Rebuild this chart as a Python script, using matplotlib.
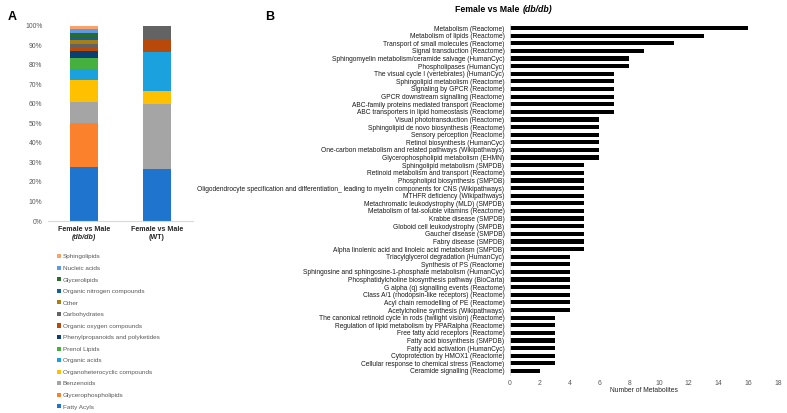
import matplotlib.pyplot as plt
import numpy as np

plt.rcParams['font.family'] = ['Liberation Sans', 'DejaVu Sans']

# === Panel A data: metabolite counts per chemical class ===
classes = ['Fatty Acyls', 'Glycerophospholipids', 'Benzenoids',
           'Organoheterocyclic compounds', 'Organic acids', 'Prenol Lipids',
           'Phenylpropanoids and polyketides', 'Organic oxygen compounds',
           'Carbohydrates', 'Other', 'Organic nitrogen compounds',
           'Glycerolipids', 'Nucleic acids', 'Sphingolipids']
class_colors = ['#1F75CE', '#FB812C', '#A5A5A5', '#FFC000', '#1BA1DD',
                '#45B03E', '#0B3F72', '#B8490A', '#636363', '#A67E12',
                '#135F96', '#2A6B2F', '#5C9BE3', '#F9A36A']
groups = ['Female vs Male', 'Female vs Male']
group_sub = ['(db/db)', '(WT)']
group_sub_style = ['italic', 'normal']
counts_dbdb = [15, 12, 6, 6, 3, 3, 2, 1, 1, 1, 1, 1, 1, 1]
counts_wt = [4, 0, 5, 1, 3, 0, 0, 1, 1, 0, 0, 0, 0, 0]

# === Panel B data: enriched pathways ===
pathways = [
    'Metabolism (Reactome)',
    'Metabolism of lipids (Reactome)',
    'Transport of small molecules (Reactome)',
    'Signal transduction (Reactome)',
    'Sphingomyelin metabolism/ceramide salvage (HumanCyc)',
    'Phospholipases (HumanCyc)',
    'The visual cycle I (vertebrates) (HumanCyc)',
    'Sphingolipid metabolism (Reactome)',
    'Signaling by GPCR (Reactome)',
    'GPCR downstream signalling (Reactome)',
    'ABC-family proteins mediated transport (Reactome)',
    'ABC transporters in lipid homeostasis (Reactome)',
    'Visual phototransduction (Reactome)',
    'Sphingolipid de novo biosynthesis (Reactome)',
    'Sensory perception (Reactome)',
    'Retinol biosynthesis (HumanCyc)',
    'One-carbon metabolism and related pathways (Wikipathways)',
    'Glycerophospholipid metabolism (EHMN)',
    'Sphingolipid metabolism (SMPDB)',
    'Retinoid metabolism and transport (Reactome)',
    'Phospholipid biosynthesis (SMPDB)',
    'Oligodendrocyte specification and differentiation_ leading to myelin components for CNS (Wikipathways)',
    'MTHFR deficiency (Wikipathways)',
    'Metachromatic leukodystrophy (MLD) (SMPDB)',
    'Metabolism of fat-soluble vitamins (Reactome)',
    'Krabbe disease (SMPDB)',
    'Globoid cell leukodystrophy (SMPDB)',
    'Gaucher disease (SMPDB)',
    'Fabry disease (SMPDB)',
    'Alpha linolenic acid and linoleic acid metabolism (SMPDB)',
    'Triacylglycerol degradation (HumanCyc)',
    'Synthesis of PS (Reactome)',
    'Sphingosine and sphingosine-1-phosphate metabolism (HumanCyc)',
    'Phosphatidylcholine biosynthesis pathway (BioCarta)',
    'G alpha (q) signalling events (Reactome)',
    'Class A/1 (rhodopsin-like receptors) (Reactome)',
    'Acyl chain remodelling of PE (Reactome)',
    'Acetylcholine synthesis (Wikipathways)',
    'The canonical retinoid cycle in rods (twilight vision) (Reactome)',
    'Regulation of lipid metabolism by PPARalpha (Reactome)',
    'Free fatty acid receptors (Reactome)',
    'Fatty acid biosynthesis (SMPDB)',
    'Fatty acid activation (HumanCyc)',
    'Cytoprotection by HMOX1 (Reactome)',
    'Cellular response to chemical stress (Reactome)',
    'Ceramide signalling (Reactome)',
]
n_metabolites = [16, 13, 11, 9, 8, 8, 7, 7, 7, 7, 7, 7, 6, 6, 6, 6, 6, 6,
                 5, 5, 5, 5, 5, 5, 5, 5, 5, 5, 5, 5, 4, 4, 4, 4, 4, 4, 4, 4,
                 3, 3, 3, 3, 3, 3, 3, 2]

W, H = 787, 413
fig = plt.figure(figsize=(W / 100, H / 100), dpi=100)
gray_txt = '#595959'

# === Panel A ===
axA = fig.add_axes([48 / W, 1 - 221 / H, 145 / W, 195.3 / H])
pct = np.array([counts_dbdb, counts_wt], dtype=float)
pct = pct / pct.sum(axis=1, keepdims=True) * 100
x = np.arange(len(groups))
bottom = np.zeros(len(groups))
handles = []
for i, name in enumerate(classes):
    b = axA.bar(x, pct[:, i], 0.39, bottom=bottom, color=class_colors[i],
                label=name, linewidth=0)
    handles.append(b)
    bottom += pct[:, i]
axA.set_xlim(-0.5, 1.5)
axA.set_ylim(0, 100)
axA.set_yticks(np.arange(0, 101, 10))
axA.set_yticklabels(['%d%%' % v for v in np.arange(0, 101, 10)])
axA.tick_params(axis='y', length=0, labelsize=4.9, labelcolor=gray_txt, pad=4)
axA.set_xticks([])
for s in ['left', 'right', 'top']:
    axA.spines[s].set_visible(False)
axA.spines['bottom'].set_color('#D9D9D9')
axA.spines['bottom'].set_linewidth(0.8)
for i in range(len(groups)):
    axA.text(x[i], -0.046, groups[i], transform=axA.get_xaxis_transform(),
             ha='center', va='center', fontsize=5.1, fontweight='bold', color='#262626')
    axA.text(x[i], -0.087, group_sub[i], transform=axA.get_xaxis_transform(),
             ha='center', va='center', fontsize=5.1, fontweight='bold',
             fontstyle=group_sub_style[i], color='#262626')

leg = fig.legend(handles[::-1], classes[::-1], loc='upper left',
                 bbox_to_anchor=(54 / W, 1 - 251 / H), frameon=False,
                 fontsize=4.6, labelspacing=0.98, handlelength=0.6,
                 handleheight=0.6, handletextpad=0.3, borderpad=0)
for t in leg.get_texts():
    t.set_color(gray_txt)

fig.text(8 / W, 1 - 17 / H, 'A', fontsize=9, fontweight='bold', va='center')

# === Panel B ===
axB = fig.add_axes([510 / W, 1 - 374.8 / H, 268 / W, 350.6 / H])
yy = np.arange(len(pathways))
axB.barh(yy, n_metabolites, height=0.55, color='black')
axB.set_ylim(len(pathways) - 0.5, -0.5)
axB.set_xlim(0, 18)
axB.set_xticks(np.arange(0, 19, 2))
axB.set_yticks(yy)
axB.set_yticklabels(pathways)
axB.tick_params(axis='y', length=0, labelsize=4.8, pad=4, labelcolor='#1a1a1a')
axB.tick_params(axis='x', length=0, labelsize=4.9, labelcolor=gray_txt, pad=4)
axB.set_xlabel('Number of Metabolites', fontsize=4.9, color='#262626', labelpad=-0.5)
for s in ['right', 'top', 'bottom']:
    axB.spines[s].set_visible(False)
axB.spines['left'].set_color('#D9D9D9')
axB.spines['left'].set_linewidth(0.6)

fig.text(522 / W, 1 - 9 / H, 'Female vs Male ', fontsize=6.3, fontweight='bold',
         ha='right', va='center')
fig.text(523 / W, 1 - 9 / H, '(db/db)', fontsize=6.3, fontweight='bold',
         fontstyle='italic', ha='left', va='center')
fig.text(265 / W, 1 - 17 / H, 'B', fontsize=9, fontweight='bold', va='center')

fig.savefig('out.png', dpi=100, facecolor='white')
